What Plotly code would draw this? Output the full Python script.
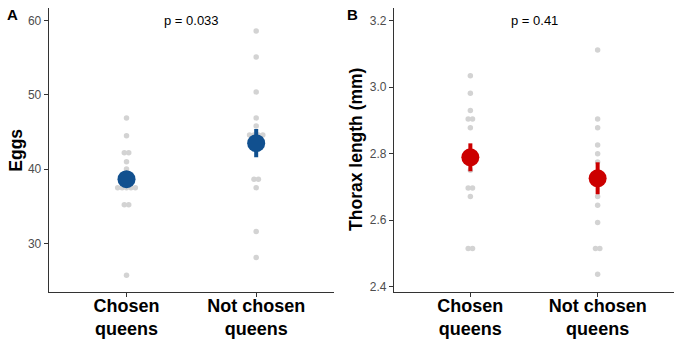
import plotly.graph_objects as go
from collections import Counter

categories = ["Chosen<br>queens", "Not chosen<br>queens"]

eggs_chosen = [46.9, 44.5, 42.2, 42.2, 41.0, 40.0, 37.5, 37.5, 37.5, 37.5, 37.5, 35.2, 35.2, 25.7]
eggs_not_chosen = [58.6, 55.1, 50.4, 46.9, 45.8, 44.6, 44.6, 44.6, 44.6, 38.65, 38.65, 37.5, 31.6, 28.1]
eggs_mean = [38.65, 43.5]
eggs_se = [1.0, 1.9]

thorax_chosen = [3.034, 2.982, 2.930, 2.904, 2.904, 2.878, 2.750, 2.697, 2.697, 2.671, 2.515, 2.515]
thorax_not_chosen = [3.112, 2.904, 2.878, 2.826, 2.800, 2.775, 2.671, 2.645, 2.593, 2.515, 2.515, 2.437]
thorax_mean = [2.789, 2.726]
thorax_se = [0.042, 0.048]

p_values = ["p = 0.033", "p = 0.41"]

W, H = 685, 343
FONT = "Liberation Sans, Arial, sans-serif"
BLUE = "#11508f"
RED = "#cc0000"
GREY = "#d3d3d3"


def spread(values, center, step=0.034):
    cnt = Counter(values)
    seen = Counter()
    xs = []
    for v in values:
        n = cnt[v]
        i = seen[v]
        seen[v] += 1
        xs.append(center + (i - (n - 1) / 2) * step)
    return xs


fig = go.Figure()

panels = [
    ("x", "y", [eggs_chosen, eggs_not_chosen], eggs_mean, eggs_se, BLUE),
    ("x2", "y2", [thorax_chosen, thorax_not_chosen], thorax_mean, thorax_se, RED),
]
for xa, ya, groups, means, ses, col in panels:
    for gi, vals in enumerate(groups):
        fig.add_trace(go.Scatter(
            x=spread(vals, gi + 1), y=vals, mode="markers",
            marker=dict(size=5.5, color=GREY), xaxis=xa, yaxis=ya,
            showlegend=False, hoverinfo="y"))
    fig.add_trace(go.Scatter(
        x=[1, 2], y=means, mode="markers",
        marker=dict(size=18, color=col),
        error_y=dict(type="data", array=ses, visible=True, color=col, thickness=4, width=0),
        xaxis=xa, yaxis=ya, showlegend=False))

ydom = [1 - 292 / H, 1 - 8 / H]
common_x = dict(range=[0.4, 2.6], tickvals=[1, 2], ticktext=categories,
                showline=True, linecolor="#333333", linewidth=1.1,
                ticks="outside", ticklen=4, tickcolor="#333333", tickwidth=1,
                ticklabelstandoff=-7,
                showgrid=False, zeroline=False, automargin=False,
                tickfont=dict(family=FONT, size=18, color="black", weight="bold"))
common_y = dict(showline=True, linecolor="#333333", linewidth=1.1,
                ticks="outside", ticklen=4, tickcolor="#333333", tickwidth=1,
                showgrid=False, zeroline=False, domain=ydom, automargin=False,
                tickfont=dict(family=FONT, size=12, color="#4d4d4d"))

fig.update_layout(
    width=W, height=H, margin=dict(l=0, r=0, t=0, b=0, autoexpand=False),
    paper_bgcolor="white", plot_bgcolor="white",
    xaxis=dict(domain=[48.7 / W, 334 / W], anchor="y", **common_x),
    xaxis2=dict(domain=[394 / W, 674 / W], anchor="y2", **common_x),
    yaxis=dict(range=[23.45, 61.7], tickvals=[30, 40, 50, 60], anchor="x", **common_y),
    yaxis2=dict(range=[2.384, 3.238], tickvals=[2.4, 2.6, 2.8, 3.0, 3.2],
                ticktext=["2.4", "2.6", "2.8", "3.0", "3.2"], anchor="x2", **common_y),
)

annotations = [
    dict(text="<b>A</b>", x=12 / W, y=1 - 14 / H, xref="paper", yref="paper",
         xanchor="center", yanchor="middle",
         showarrow=False, font=dict(family=FONT, size=15, color="black")),
    dict(text="<b>B</b>", x=353 / W, y=1 - 14 / H, xref="paper", yref="paper",
         xanchor="center", yanchor="middle",
         showarrow=False, font=dict(family=FONT, size=15, color="black")),
    dict(text="<b>Eggs</b>", x=15.7 / W, y=1 - 150 / H, xref="paper", yref="paper",
         xanchor="center", yanchor="middle",
         textangle=-90, showarrow=False, font=dict(family=FONT, size=17.5, color="black")),
    dict(text="<b>Thorax length (mm)</b>", x=355.7 / W, y=1 - 149.2 / H, xref="paper", yref="paper",
         xanchor="center", yanchor="middle",
         textangle=-90, showarrow=False, font=dict(family=FONT, size=17.5, color="black")),
    dict(text=p_values[0], x=1.5, y=60, xref="x", yref="y", showarrow=False,
         xanchor="center", yanchor="middle",
         font=dict(family=FONT, size=13, color="black")),
    dict(text=p_values[1], x=1.5, y=3.2, xref="x2", yref="y2", showarrow=False,
         xanchor="center", yanchor="middle",
         font=dict(family=FONT, size=13, color="black")),
]
fig.update_layout(annotations=annotations)

fig.write_html("out.html", config={"displayModeBar": False},
               post_script="document.body.style.margin='0px';")
